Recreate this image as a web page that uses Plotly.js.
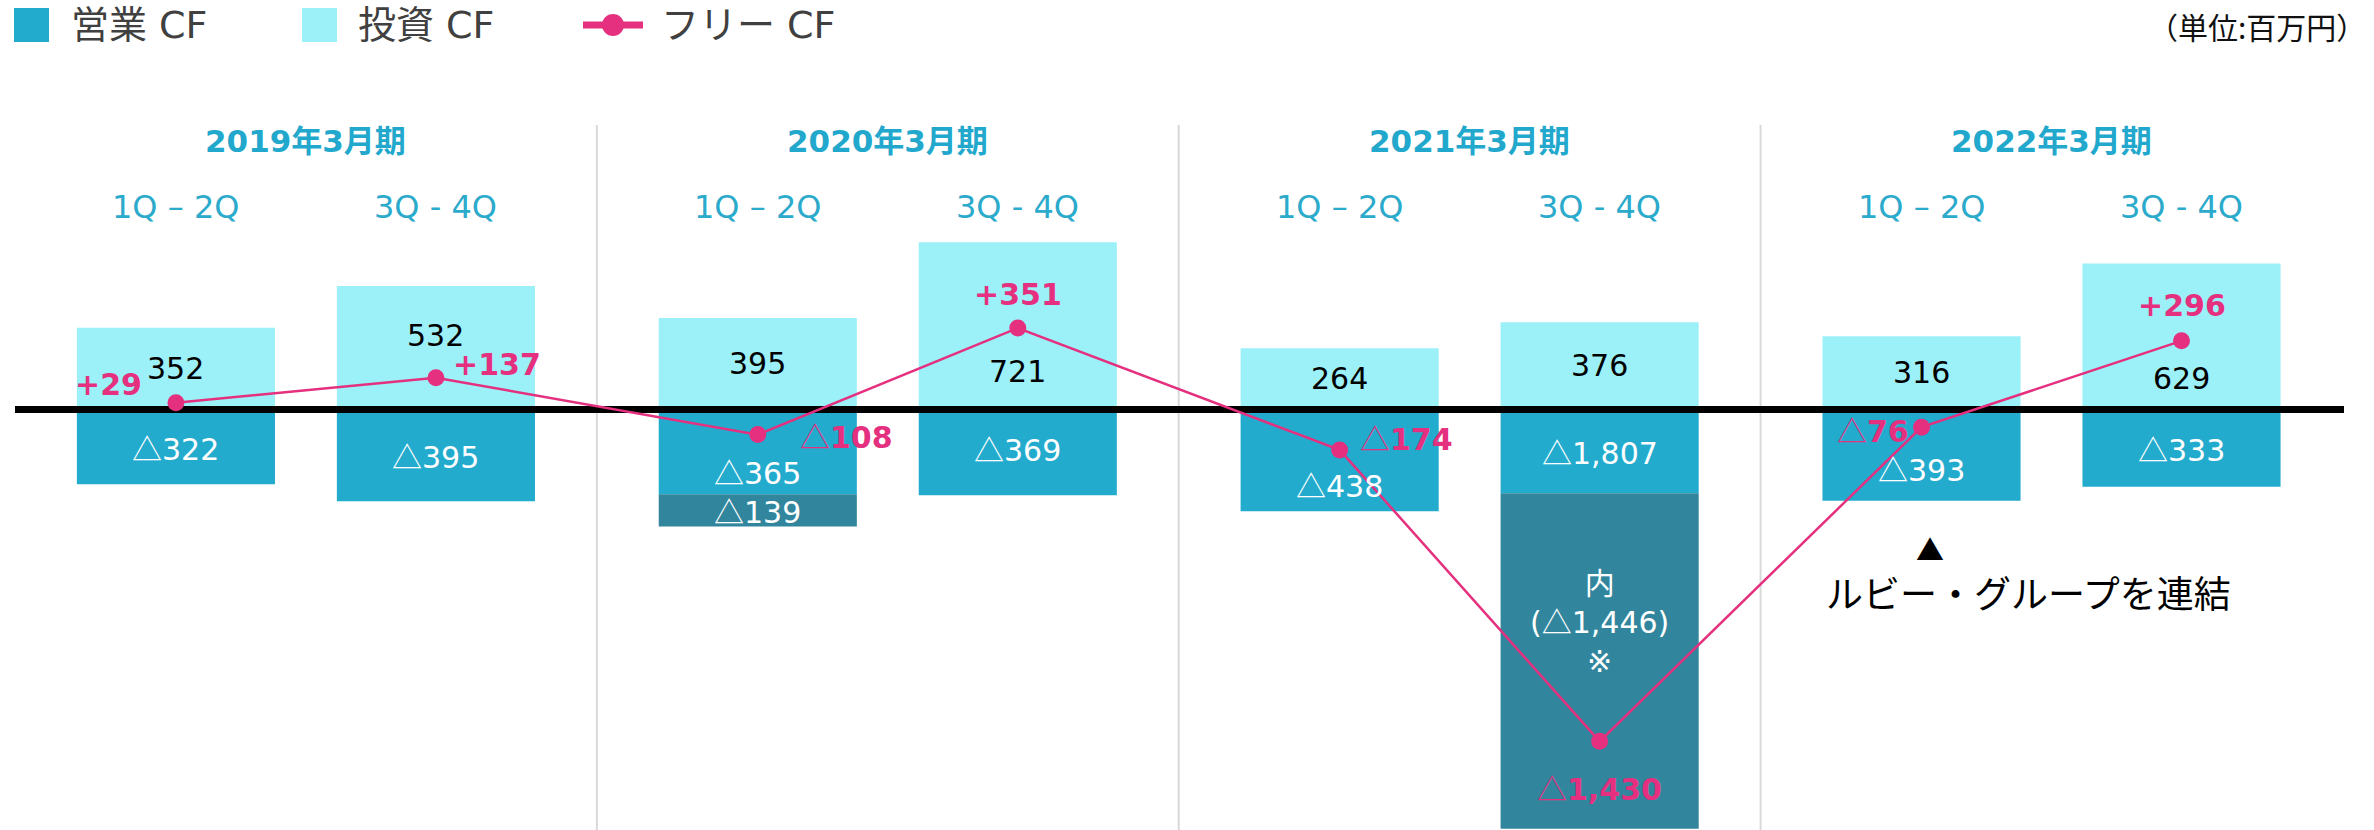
<!DOCTYPE html>
<html>
<head>
<meta charset="utf-8">
<script src="https://cdn.plot.ly/plotly-3.0.1.min.js"></script>
<style>
  html, body { margin: 0; padding: 0; background: #fff; }
  #chart { width: 2374px; height: 830px; }
</style>
</head>
<body>
<div id="chart"></div>
<script>
// values (百万円)
const periods = ['2019年3月期', '2020年3月期', '2021年3月期', '2022年3月期'];
const halves = ['1Q – 2Q', '3Q - 4Q'];
const operatingCF = [352, 532, 395, 721, 264, 376, 316, 629];
const investingCF = [-322, -395, -365, -369, -438, -1807, -393, -333];
const addedCF = [0, 0, -139, 0, 0, 0, 0, 0];        // extra block drawn under the bar
const includedCF = [0, 0, 0, 0, 0, -1446, 0, 0];    // "内" part of investingCF
const freeCF = [29, 137, -108, 351, -174, -1430, -76, 296];

const C = { op: '#9CF0F8', inv: '#23ABCE', dark: '#31869E', pink: '#E4307E', head: '#22A8CC', sub: '#2BAACC', legend: '#404040' };
const FONT = '"DejaVu Sans", "Noto Sans CJK JP", sans-serif';
const JP = '"Noto Sans CJK JP", sans-serif';

const W = 2374, H = 830, ML = 15, MR = 30;
const GROUP = 2.238, BARW = 0.762;
const xs = operatingCF.map((_, i) => Math.floor(i / 2) * GROUP + i % 2);
const XR = [-0.619, 8.339], YR = [-1812, 1765];
const px = x => (x - ML) / (W - ML - MR);
const py = y => 1 - y / H;
const fmt = n => Math.abs(n).toLocaleString('en-US');
const tri = (n, extra = '') => n < 0
  ? `<span style="font-family:'Noto Sans CJK JP';${extra}">△</span>${fmt(n)}`
  : '+' + fmt(n);

const tealY = investingCF.map((v, i) => v - includedCF[i]);
const darkY = addedCF.map((v, i) => v + includedCF[i]);

// label nudges (px, up is positive) so they clear the free CF line
const posShift = [0, 12, 0, -46, 0, 0, 0, -42];
const negShift = [0, 0, -19, 4, -24, 0, -13, 0];
const freePos = [
  { a: 'right', dx: -32, dy: 18 }, { a: 'left', dx: 15, dy: 13 },
  { a: 'left', dx: 40, dy: 0 }, { a: 'center', dx: 0, dy: 34 },
  { a: 'left', dx: 18, dy: 13 }, { a: 'center', dx: 0, dy: -46 },
  { a: 'right', dx: -11, dy: -2 }, { a: 'center', dx: 0, dy: 35 },
];

const traces = [
  { type: 'bar', x: xs, y: operatingCF, width: BARW, marker: { color: C.op }, hoverinfo: 'skip' },
  { type: 'bar', x: xs, y: tealY, width: BARW, marker: { color: C.inv }, hoverinfo: 'skip' },
  { type: 'bar', x: xs, y: darkY, width: BARW, marker: { color: C.dark }, hoverinfo: 'skip' },
  { type: 'scatter', x: XR, y: [0, 0], mode: 'lines', line: { color: '#000', width: 7 }, hoverinfo: 'skip' },
  { type: 'scatter', x: xs, y: freeCF, mode: 'lines+markers', line: { color: C.pink, width: 2.5 },
    marker: { color: C.pink, size: 17 }, hoverinfo: 'skip' },
];

const ann = [];
const note = o => ann.push({ showarrow: false, xanchor: 'center', yanchor: 'middle', ...o });

periods.forEach((p, g) => note({ x: g * GROUP + 0.5, y: py(141), yref: 'paper', text: `<b>${p}</b>`,
  font: { family: FONT, size: 31, color: C.head } }));
xs.forEach((x, i) => {
  note({ x, y: py(207), yref: 'paper', text: halves[i % 2], font: { family: FONT, size: 32, color: C.sub } });
  note({ x, y: operatingCF[i] / 2, yshift: posShift[i], text: fmt(operatingCF[i]),
    font: { family: FONT, size: 30, color: '#000' } });
  note({ x, y: tealY[i] / 2, yshift: negShift[i], text: tri(investingCF[i]),
    font: { family: FONT, size: 30, color: '#fff' } });
  if (addedCF[i]) note({ x, y: tealY[i] + addedCF[i] / 2, text: tri(addedCF[i]),
    font: { family: FONT, size: 30, color: '#fff' } });
  if (includedCF[i]) note({ x, y: tealY[i] + includedCF[i] / 2, yshift: 39,
    text: `内<br>(${tri(includedCF[i])})<br>※`, font: { family: FONT, size: 30, color: '#fff' } });
  const f = freePos[i];
  note({ x, y: freeCF[i], xanchor: f.a, xshift: f.dx, yshift: f.dy,
    text: `<b>${tri(freeCF[i], 'font-weight:normal')}</b>`, font: { family: FONT, size: 30, color: C.pink } });
});

// legend + notes
[['営業 CF', 69], ['投資 CF', 356], ['フリー CF', 659]].forEach(([t, l]) => note({
  x: px(l), xref: 'paper', xanchor: 'left', y: py(25), yref: 'paper', text: t,
  font: { family: FONT, size: 38, color: C.legend } }));
note({ x: px(2368), xref: 'paper', xanchor: 'right', y: py(26), yref: 'paper', text: '（単位:百万円）',
  font: { family: JP, size: 30, color: '#111' } });
note({ x: px(1930), xref: 'paper', y: py(549), yref: 'paper', text: '▲', font: { family: JP, size: 28, color: '#000' } });
note({ x: px(2028), xref: 'paper', y: py(592), yref: 'paper', text: 'ルビー・グループを連結',
  font: { family: JP, size: 37, color: '#000' } });

const shapes = [
  { type: 'rect', xref: 'paper', yref: 'paper', x0: px(14), x1: px(49), y0: py(8), y1: py(42), fillcolor: C.inv, line: { width: 0 } },
  { type: 'rect', xref: 'paper', yref: 'paper', x0: px(302), x1: px(337), y0: py(8), y1: py(42), fillcolor: C.op, line: { width: 0 } },
  { type: 'line', xref: 'paper', yref: 'paper', x0: px(583), x1: px(643), y0: py(25), y1: py(25), line: { color: C.pink, width: 7 } },
  { type: 'circle', xref: 'paper', yref: 'paper', x0: px(602), x1: px(624), y0: py(14), y1: py(36), fillcolor: C.pink, line: { width: 0 } },
];
[0, 1, 2].forEach(g => {
  const sx = g * GROUP + 1 + (GROUP - 1) / 2;
  shapes.push({ type: 'line', xref: 'x', yref: 'paper', x0: sx, x1: sx, y0: 0, y1: py(125),
    line: { color: '#D9D9D9', width: 2 }, layer: 'below' });
});

Plotly.newPlot('chart', traces, {
  width: W, height: H, barmode: 'relative', showlegend: false,
  margin: { l: ML, r: MR, t: 0, b: 0 },
  paper_bgcolor: '#fff', plot_bgcolor: 'rgba(0,0,0,0)',
  xaxis: { range: XR, visible: false, fixedrange: true },
  yaxis: { range: YR, visible: false, fixedrange: true },
  annotations: ann, shapes,
}, { displayModeBar: false, staticPlot: true });
</script>
</body>
</html>
